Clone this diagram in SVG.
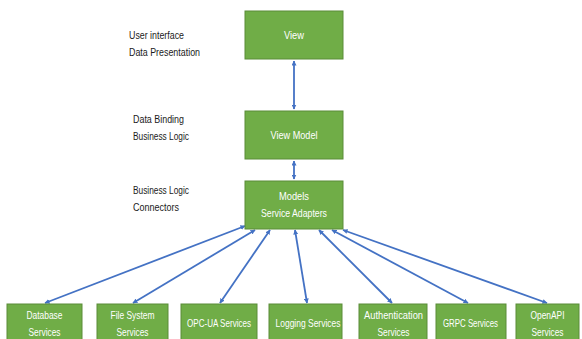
<svg xmlns="http://www.w3.org/2000/svg" width="582" height="339" viewBox="0 0 582 339">
<defs>
<marker id="ah" viewBox="0 0 10 10" refX="9" refY="5" markerWidth="5" markerHeight="5" orient="auto-start-reverse" markerUnits="userSpaceOnUse">
<path d="M0,0 L10,5 L0,10 z" fill="#4472C4"/>
</marker>
<style>
.box{fill:#70AD47;stroke:#5A8C39;stroke-width:1}
.bt{font-family:"Liberation Sans",Arial,sans-serif;font-size:10.5px;fill:#FFFFFF;text-anchor:middle}
.lt{font-family:"Liberation Sans",Arial,sans-serif;font-size:10.5px;fill:#1a1a1a}
.cn{stroke:#4472C4;stroke-width:1.8;fill:none;marker-start:url(#ah);marker-end:url(#ah)}
</style>
</defs>
<rect width="582" height="339" fill="#FFFFFF"/>
<g id="labels">
<text class="lt" x="129" y="39" textLength="55" lengthAdjust="spacingAndGlyphs">User interface</text>
<text class="lt" x="129" y="56" textLength="71" lengthAdjust="spacingAndGlyphs">Data Presentation</text>
<text class="lt" x="133" y="123" textLength="51" lengthAdjust="spacingAndGlyphs">Data Binding</text>
<text class="lt" x="133" y="140" textLength="56" lengthAdjust="spacingAndGlyphs">Business Logic</text>
<text class="lt" x="133" y="194" textLength="56" lengthAdjust="spacingAndGlyphs">Business Logic</text>
<text class="lt" x="133" y="211" textLength="46" lengthAdjust="spacingAndGlyphs">Connectors</text>
</g>
<g id="connectors">
<line class="cn" x1="294" y1="61" x2="294" y2="109"/>
<line class="cn" x1="294" y1="161" x2="294" y2="179"/>
<line class="cn" x1="245" y1="226" x2="45" y2="303"/>
<line class="cn" x1="255" y1="230" x2="133" y2="303"/>
<line class="cn" x1="270" y1="230" x2="220" y2="303"/>
<line class="cn" x1="295" y1="230" x2="307" y2="303"/>
<line class="cn" x1="319" y1="230" x2="392" y2="303"/>
<line class="cn" x1="332" y1="230" x2="468" y2="303"/>
<line class="cn" x1="343" y1="230" x2="547" y2="303"/>
</g>
<g id="view"><rect class="box" x="245" y="11" width="98" height="48"/><text class="bt" x="294" y="39" textLength="20" lengthAdjust="spacingAndGlyphs">View</text></g>
<g id="viewmodel"><rect class="box" x="245" y="111" width="98" height="48"/><text class="bt" x="294" y="139" textLength="47" lengthAdjust="spacingAndGlyphs">View Model</text></g>
<g id="models"><rect class="box" x="245" y="181" width="98" height="48"/><text class="bt" x="294" y="200" textLength="30" lengthAdjust="spacingAndGlyphs">Models</text><text class="bt" x="294" y="217" textLength="66" lengthAdjust="spacingAndGlyphs">Service Adapters</text></g>
<g id="database"><rect class="box" x="7" y="304" width="75" height="40"/><text class="bt" x="44.5" y="319" textLength="36" lengthAdjust="spacingAndGlyphs">Database</text><text class="bt" x="44.5" y="336" textLength="32" lengthAdjust="spacingAndGlyphs">Services</text></g>
<g id="filesystem"><rect class="box" x="97" y="304" width="71" height="40"/><text class="bt" x="132.5" y="319" textLength="44" lengthAdjust="spacingAndGlyphs">File System</text><text class="bt" x="132.5" y="336" textLength="32" lengthAdjust="spacingAndGlyphs">Services</text></g>
<g id="opcua"><rect class="box" x="181" y="304" width="76" height="40"/><text class="bt" x="219" y="327" textLength="64" lengthAdjust="spacingAndGlyphs">OPC-UA Services</text></g>
<g id="logging"><rect class="box" x="269" y="304" width="73" height="40"/><text class="bt" x="308" y="327" textLength="65" lengthAdjust="spacingAndGlyphs">Logging Services</text></g>
<g id="auth"><rect class="box" x="359" y="304" width="68" height="40"/><text class="bt" x="393.5" y="319" textLength="59" lengthAdjust="spacingAndGlyphs">Authentication</text><text class="bt" x="393.5" y="336" textLength="32" lengthAdjust="spacingAndGlyphs">Services</text></g>
<g id="grpc"><rect class="box" x="436" y="304" width="70" height="40"/><text class="bt" x="470.5" y="327" textLength="55" lengthAdjust="spacingAndGlyphs">GRPC Services</text></g>
<g id="openapi"><rect class="box" x="516" y="304" width="63" height="40"/><text class="bt" x="547.5" y="319" textLength="34" lengthAdjust="spacingAndGlyphs">OpenAPI</text><text class="bt" x="547.5" y="336" textLength="32" lengthAdjust="spacingAndGlyphs">Services</text></g>
</svg>
